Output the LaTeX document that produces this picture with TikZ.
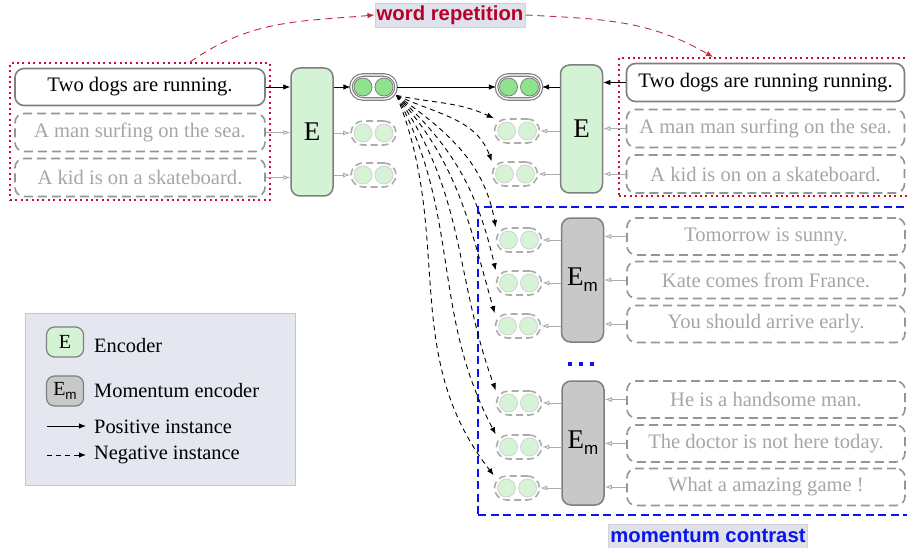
\documentclass[tikz,border=0pt]{standalone}
\usepackage{fontspec}
\setmainfont{Liberation Serif}
\newfontfamily\lsans{Liberation Sans}
\usetikzlibrary{arrows.meta}
\definecolor{encg}{HTML}{D4F2D4}
\definecolor{emg}{HTML}{C8C8C8}
\definecolor{bord}{HTML}{7F7F7F}
\definecolor{dgreen}{HTML}{8FE38F}
\definecolor{lgreen}{HTML}{D6F3D6}
\definecolor{fadetxt}{HTML}{A6A6A6}
\definecolor{fadebord}{HTML}{959595}
\definecolor{wred}{HTML}{B8002C}
\definecolor{rbox}{HTML}{C41030}
\definecolor{rcurve}{HTML}{BE2A40}
\definecolor{lblbg}{HTML}{DFE2EB}
\definecolor{legbg}{HTML}{E4E7EF}
\definecolor{mblue}{HTML}{0A14F0}
\newcommand\myposdots[1]{\foreach \dx in {-10.5,10.5}{\draw[fill=dgreen,draw=bord,line width=0.8pt] ([xshift=\dx pt]#1.center) circle[radius=9pt];}}
\newcommand\mynegdots[1]{\foreach \dx in {-10.5,10.5}{\draw[fill=lgreen,draw=gray!35,line width=0.8pt] ([xshift=\dx pt]#1.center) circle[radius=9pt];}}
\newcommand\myEm[2]{E\raisebox{-0.22em}{\lsans\fontsize{#1}{#1}\selectfont m}}
\tikzset{
 sent/.style={draw=bord, line width=1.6pt, rounded corners=9pt, fill=white, minimum height=37pt, font=\fontsize{20.6}{23}\selectfont, inner sep=0pt},
 sentf/.style={sent, draw=fadebord, dash pattern=on 9pt off 5pt, text=fadetxt},
 enc/.style={draw=bord, line width=1.5pt, rounded corners=9pt, fill=encg, minimum width=42pt, minimum height=128pt, font=\fontsize{27}{29}\selectfont, inner sep=0pt},
 menc/.style={enc, fill=emg, minimum height=124pt},
 pill/.style={draw=bord, rounded corners=12pt, minimum width=45pt, minimum height=24pt, inner sep=0pt},
 pillpos/.style={pill, double=white, double distance=1.3pt, line width=1.2pt},
 pillneg/.style={pill, draw=gray!65, line width=1.6pt, dash pattern=on 7pt off 4pt},
 posar/.style={line width=0.9pt, -{Latex[length=7pt,width=5.5pt]}},
 negar/.style={line width=0.9pt, dash pattern=on 5pt off 4pt, -{Latex[length=7pt,width=5.5pt]}},
 fadear/.style={line width=0.9pt, draw=gray!65, -{Latex[open,length=7pt,width=5pt]}},
 redbox/.style={draw=rbox, line width=2pt, dash pattern=on 2pt off 3.4pt, minimum width=#1, inner sep=0pt},
 lbl/.style={fill=lblbg, draw=gray!35, font=\lsans\bfseries\fontsize{20.3}{22}\selectfont, inner sep=2pt, minimum height=24pt},
 legtxt/.style={anchor=west, font=\fontsize{20.4}{23}\selectfont, inner sep=0pt},
}
\begin{document}
\begin{tikzpicture}[x=1pt,y=-1pt]
\useasboundingbox (0,0) rectangle (907,548);
% group boxes
\node[redbox=260pt, minimum height=137pt] (redL) at (140,131.5) {};
\node[redbox=290pt, minimum height=138pt] (redR) at (764,127) {};
\node[draw=mblue, line width=2pt, dash pattern=on 8pt off 4.5pt, minimum width=434pt, minimum height=308pt, inner sep=0pt] (blu) at (695,361) {};
% labels
\node[lbl, text=wred] (wr) at (450,15) {word repetition};
\node[lbl, text=mblue] (mc) at (708,536) {momentum contrast};
% left sentences
\node[sent, minimum width=250pt] (sL0) at (140,87) {Two dogs are running.};
\node[sentf, minimum width=250pt, minimum height=38pt] (sL1) at (140,132.5) {A man surfing on the sea.};
\node[sentf, minimum width=250pt, minimum height=38pt] (sL2) at (140,177.5) {A kid is on a skateboard.};
\node[enc] (EL) at (312,132) {E};
% right sentences
\node[sent, minimum width=278pt, minimum height=38pt] (sR0) at (765.5,82.5) {Two dogs are running running.};
\node[sentf, minimum width=278pt, minimum height=38pt] (sR1) at (765.5,128.5) {A man man surfing on the sea.};
\node[sentf, minimum width=278pt, minimum height=38pt] (sR2) at (765.5,174) {A kid is on on a skateboard.};
\node[enc] (ER) at (581.5,129) {E};
% momentum sentences
\node[sentf, minimum width=278pt] (t1) at (766,236.5) {Tomorrow is sunny.};
\node[sentf, minimum width=278pt] (t2) at (766,280) {Kate comes from France.};
\node[sentf, minimum width=278pt] (t3) at (766,324) {You should arrive early.};
\node[sentf, minimum width=278pt] (t4) at (766,399.5) {He is a handsome man.};
\node[sentf, minimum width=278pt] (t5) at (766,443.5) {The doctor is not here today.};
\node[sentf, minimum width=278pt] (t6) at (766,487) {What a amazing game !};
\node[menc] (M1) at (582.5,280) {\myEm{17}{}};
\node[menc] (M2) at (583,443) {\myEm{17}{}};
\foreach \xx in {570,581,592}{\fill[mblue] (\xx-2,362) rectangle (\xx+2,366);}
% pairs
\node[pillpos] (pL) at (373.5,87) {};
\node[pillneg] (fL1) at (373.5,133) {};
\node[pillneg] (fL2) at (373.5,175) {};
\node[pillpos] (pR) at (519,87) {};
\node[pillneg] (fR1) at (517,131) {};
\node[pillneg] (fR2) at (515,174) {};
\node[pillneg] (b1) at (519,240) {};
\node[pillneg] (b2) at (519,283) {};
\node[pillneg] (b3) at (518,326) {};
\node[pillneg] (b4) at (519,403) {};
\node[pillneg] (b5) at (519,447) {};
\node[pillneg] (b6) at (517,488) {};
\myposdots{pL}\myposdots{pR}
\foreach \n in {fL1,fL2,fR1,fR2,b1,b2,b3,b4,b5,b6}{\mynegdots{\n}}
% encoder arrows
\draw[posar] (sL0.east) -- (sL0.east -| EL.west);
\draw[posar] (pL.west -| EL.east) -- (pL.west);
\draw[fadear] (sL1.east) -- (sL1.east -| EL.west);
\draw[fadear] (sL2.east) -- (sL2.east -| EL.west);
\draw[fadear] (fL1.west -| EL.east) -- (fL1.west);
\draw[fadear] (fL2.west -| EL.east) -- (fL2.west);
\draw[posar] (sR0.west) -- (sR0.west -| ER.east);
\draw[posar] (pR.east -| ER.west) -- (pR.east);
\draw[fadear] (sR1.west) -- (sR1.west -| ER.east);
\draw[fadear] (sR2.west) -- (sR2.west -| ER.east);
\draw[fadear] (fR1.east -| ER.west) -- (fR1.east);
\draw[fadear] (fR2.east -| ER.west) -- (fR2.east);
\foreach \t/\b/\m in {t1/b1/M1,t2/b2/M1,t3/b3/M1,t4/b4/M2,t5/b5/M2,t6/b6/M2}{
  \draw[fadear] (\t.west) -- (\t.west -| \m.east);
  \draw[fadear] (\b.east -| \m.west) -- (\b.east);
}
% positive and negative instances
\draw[posar] (pL.east) -- (pR.west);
\draw[negar] (pL.-20) to[out=-12,in=155] (fR1.north west);
\draw[negar] (pL.-20) to[out=-25,in=110] (fR2.north west);
\draw[negar] (pL.-20) to[out=-35,in=100] (b1.north west);
\draw[negar] (pL.-20) to[out=-42,in=103] (b2.north west);
\draw[negar] (pL.-20) to[out=-48,in=106] (b3.north west);
\draw[negar] (pL.-20) to[out=-55,in=110] (b4.north west);
\draw[negar] (pL.-20) to[out=-62,in=118] (b5.north west);
\draw[negar] (pL.-20) to[out=-68,in=128] (b6.north west);
% word repetition curves
\coordinate (rs) at ([xshift=50pt]redL.north);
\coordinate (re) at (713,57);
\draw[rcurve, line width=0.9pt, dash pattern=on 7pt off 5pt, -{Latex[length=7pt,width=5.5pt]}] (rs) to[out=35,in=185] (wr.west);
\draw[rcurve, line width=0.9pt, dash pattern=on 7pt off 5pt, -{Latex[length=7pt,width=5.5pt]}] (wr.east) to[out=-3,in=150] (re);
% legend
\node[fill=legbg, draw=gray!45, line width=0.8pt, minimum width=270pt, minimum height=172pt, inner sep=0pt] (lg) at (160,399) {};
\node[draw=bord, line width=1.2pt, fill=encg, rounded corners=8pt, minimum width=37pt, minimum height=30pt, inner sep=0pt, font=\fontsize{20}{22}\selectfont] (legE) at (65,342) {E};
\node[legtxt] (legEt) at (94,346) {Encoder};
\node[draw=bord, line width=1.2pt, fill=emg, rounded corners=8pt, minimum width=37pt, minimum height=30pt, inner sep=0pt, font=\fontsize{20}{22}\selectfont] (legM) at (65,391) {\myEm{13.5}{}};
\node[legtxt] (legMt) at (94,391) {Momentum encoder};
\coordinate (lp1) at (47,426);
\coordinate (lp2) at (86,426);
\draw[posar] (lp1) -- (lp2);
\node[legtxt] (legPt) at (94,427) {Positive instance};
\coordinate (ln1) at (47,455);
\coordinate (ln2) at (86,455);
\draw[negar] (ln1) -- (ln2);
\node[legtxt] (legNt) at (94,455) {Negative instance};
\end{tikzpicture}
\end{document}
